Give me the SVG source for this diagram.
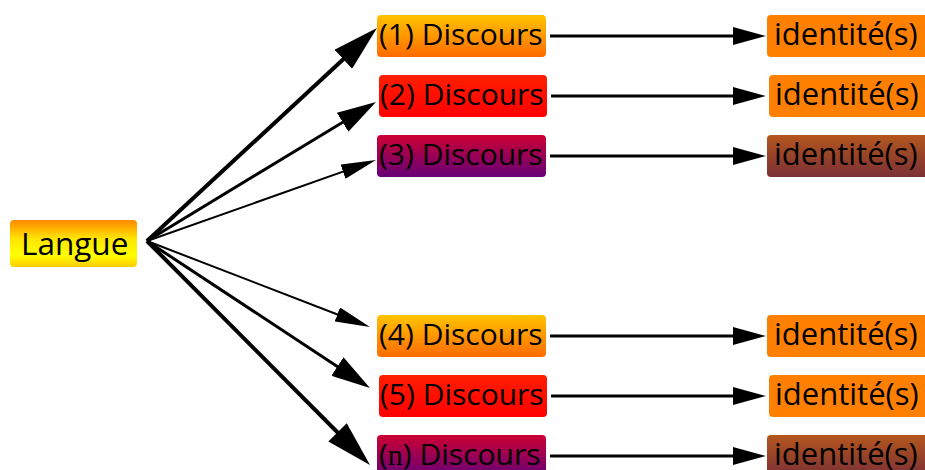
<svg xmlns="http://www.w3.org/2000/svg" width="925" height="470" viewBox="0 0 925 470">
  <defs>
    <linearGradient id="gLangue" x1="0" y1="0" x2="0" y2="1">
      <stop offset="0" stop-color="#ff8800"/>
      <stop offset="0.4" stop-color="#ffe600"/>
      <stop offset="0.75" stop-color="#ffff00"/>
      <stop offset="1" stop-color="#ffcc00"/>
    </linearGradient>
    <linearGradient id="gOrange" x1="0" y1="0" x2="0" y2="1">
      <stop offset="0" stop-color="#ffc400"/>
      <stop offset="1" stop-color="#ff6a00"/>
    </linearGradient>
    <linearGradient id="gRed" x1="0" y1="0" x2="0" y2="1">
      <stop offset="0" stop-color="#ff1e00"/>
      <stop offset="1" stop-color="#ff0000"/>
    </linearGradient>
    <linearGradient id="gPurple" x1="0" y1="0" x2="0" y2="1">
      <stop offset="0" stop-color="#cc0033"/>
      <stop offset="1" stop-color="#660077"/>
    </linearGradient>
    <linearGradient id="gBrown" x1="0" y1="0" x2="0" y2="1">
      <stop offset="0" stop-color="#b4561e"/>
      <stop offset="1" stop-color="#7a3035"/>
    </linearGradient>
    <marker id="mBig" markerUnits="userSpaceOnUse" orient="auto" markerWidth="46" markerHeight="26" refX="3" refY="13" viewBox="0 0 46 26">
      <path d="M0,0 L46,13 L0,26 z" fill="#000"/>
    </marker>
    <marker id="mMid" markerUnits="userSpaceOnUse" orient="auto" markerWidth="39" markerHeight="22" refX="3" refY="11" viewBox="0 0 39 22">
      <path d="M0,0 L39,11 L0,22 z" fill="#000"/>
    </marker>
    <marker id="mSmall" markerUnits="userSpaceOnUse" orient="auto" markerWidth="35" markerHeight="15" refX="3" refY="7.5" viewBox="0 0 35 15">
      <path d="M0,0 L35,7.5 L0,15 z" fill="#000"/>
    </marker>
    <marker id="mH" markerUnits="userSpaceOnUse" orient="auto" markerWidth="33" markerHeight="18" refX="3" refY="9" viewBox="0 0 33 18">
      <path d="M0,0 L33,9 L0,18 z" fill="#000"/>
    </marker>
  </defs>
  <style>
    .box { stroke: none; }
    .t { font-family: "Open Sans", "Liberation Sans", sans-serif; font-size: 30px; fill: #000; }
    .ti { font-family: "Open Sans", "Liberation Sans", sans-serif; font-size: 31px; fill: #000; }
    .tl { font-family: "Open Sans", "Liberation Sans", sans-serif; font-size: 31.5px; fill: #000; }
    .serif { font-family: "Liberation Serif", serif; }
    .c { stroke: #000; fill: none; }
  </style>
  <rect width="925" height="470" fill="#ffffff"/>

  <g id="connectors">
    <line class="c" x1="147" y1="241" x2="345.45" y2="57.22" stroke-width="4" marker-end="url(#mBig)"/>
    <line class="c" x1="147" y1="241" x2="345.23" y2="120.68" stroke-width="3" marker-end="url(#mMid)"/>
    <line class="c" x1="147" y1="241" x2="345.83" y2="170.67" stroke-width="2" marker-end="url(#mSmall)"/>
    <line class="c" x1="147" y1="241" x2="340.14" y2="315.49" stroke-width="2" marker-end="url(#mSmall)"/>
    <line class="c" x1="147" y1="241" x2="339.94" y2="368.19" stroke-width="3" marker-end="url(#mMid)"/>
    <line class="c" x1="147" y1="241" x2="339.66" y2="434.53" stroke-width="4" marker-end="url(#mBig)"/>
    <line class="c" x1="550" y1="36" x2="736" y2="36" stroke-width="3" marker-end="url(#mH)"/>
    <line class="c" x1="551" y1="96" x2="736" y2="96" stroke-width="3" marker-end="url(#mH)"/>
    <line class="c" x1="550" y1="156" x2="736" y2="156" stroke-width="3" marker-end="url(#mH)"/>
    <line class="c" x1="550" y1="336" x2="736" y2="336" stroke-width="3" marker-end="url(#mH)"/>
    <line class="c" x1="551" y1="396" x2="736" y2="396" stroke-width="3" marker-end="url(#mH)"/>
    <line class="c" x1="550" y1="456" x2="736" y2="456" stroke-width="3" marker-end="url(#mH)"/>
  </g>

  <g id="langue">
    <rect class="box" x="10" y="220" width="127" height="47" rx="4" fill="url(#gLangue)"/>
    <text class="tl" x="21" y="254.5">Langue</text>
  </g>

  <g id="discours1">
    <rect class="box" x="377" y="15" width="169" height="42" rx="4" fill="url(#gOrange)"/>
    <text class="t" x="379" y="45">(1) Discours</text>
  </g>
  <g id="discours2">
    <rect class="box" x="379" y="75" width="168" height="42" rx="4" fill="url(#gRed)"/>
    <text class="t" x="380" y="105">(2) Discours</text>
  </g>
  <g id="discours3">
    <rect class="box" x="377" y="135" width="169" height="42" rx="4" fill="url(#gPurple)"/>
    <text class="t" x="379" y="165">(3) Discours</text>
  </g>
  <g id="discours4">
    <rect class="box" x="377" y="315" width="169" height="42" rx="4" fill="url(#gOrange)"/>
    <text class="t" x="379" y="345">(4) Discours</text>
  </g>
  <g id="discours5">
    <rect class="box" x="379" y="375" width="168" height="42" rx="4" fill="url(#gRed)"/>
    <text class="t" x="380" y="405">(5) Discours</text>
  </g>
  <g id="discoursN">
    <rect class="box" x="377" y="435" width="169" height="42" rx="4" fill="url(#gPurple)"/>
    <text class="t" x="379" y="465">(<tspan class="serif">n</tspan>) Discours</text>
  </g>

  <g id="identite1">
    <rect class="box" x="767" y="15" width="170" height="42" rx="4" fill="#ff8000"/>
    <text class="ti" x="774" y="45">identité(s)</text>
  </g>
  <g id="identite2">
    <rect class="box" x="769" y="75" width="170" height="42" rx="4" fill="#ff8000"/>
    <text class="ti" x="775" y="105">identité(s)</text>
  </g>
  <g id="identite3">
    <rect class="box" x="767" y="135" width="170" height="42" rx="4" fill="url(#gBrown)"/>
    <text class="ti" x="774" y="165">identité(s)</text>
  </g>
  <g id="identite4">
    <rect class="box" x="767" y="315" width="170" height="42" rx="4" fill="#ff8000"/>
    <text class="ti" x="774" y="345">identité(s)</text>
  </g>
  <g id="identite5">
    <rect class="box" x="769" y="375" width="170" height="42" rx="4" fill="#ff8000"/>
    <text class="ti" x="775" y="405">identité(s)</text>
  </g>
  <g id="identiteN">
    <rect class="box" x="767" y="435" width="170" height="42" rx="4" fill="url(#gBrown)"/>
    <text class="ti" x="774" y="465">identité(s)</text>
  </g>
</svg>
